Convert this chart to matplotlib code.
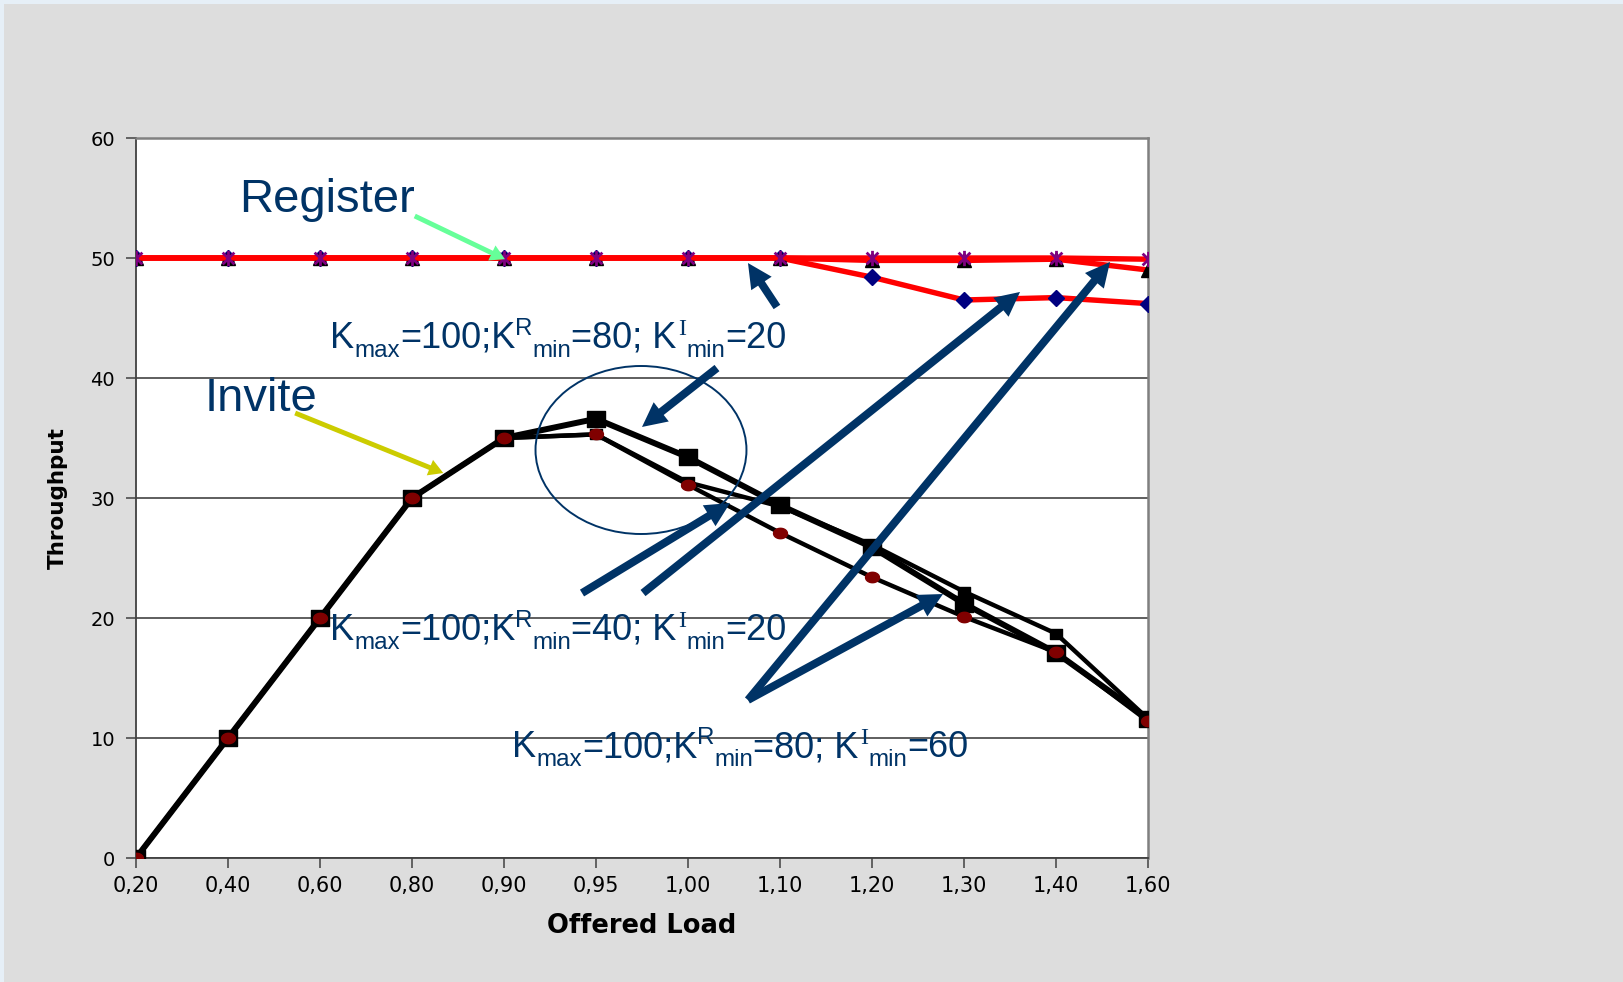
import matplotlib
matplotlib.use("Agg")
import matplotlib.pyplot as plt
import numpy as np
from matplotlib.path import Path
from matplotlib.patches import FancyArrowPatch, Ellipse, Rectangle
from matplotlib.transforms import IdentityTransform

# Offered load categories
loads = ["0,20", "0,40", "0,60", "0,80", "0,90", "0,95",
         "1,00", "1,10", "1,20", "1,30", "1,40", "1,60"]
yticks = [0, 10, 20, 30, 40, 50, 60]

# Register throughput
reg_80_20 = [50, 50, 50, 50, 50, 50, 50, 50, 50, 50, 50, 49.9]
reg_80_60 = [50, 50, 50, 50, 50, 50, 50, 50, 49.8, 49.8, 49.9, 49.0]
reg_40_20 = [50, 50, 50, 50, 50, 50, 50, 50, 48.4, 46.5, 46.7, 46.2]

# Invite throughput
inv_80_20 = [0, 10, 20, 30, 35, 36.6, 33.4, 29.4, 25.9, 21.2, 17.1, 11.6]
inv_80_60 = [0, 10, 20, 30, 35, 35.3, 31.3, 29.3, 26.1, 22.2, 18.7, 11.6]
inv_40_20 = [0, 10, 20, 30, 35, 35.3, 31.1, 27.1, 23.4, 20.1, 17.15, 11.4]

# Parameter sets: (K^R_min, K^I_min)
params = [("80", "20"), ("40", "20"), ("80", "60")]

W, H = 1624, 982
fig = plt.figure(figsize=(W / 100, H / 100), dpi=100)
fig.patch.set_facecolor("#DDDDDD")
fig.patches.append(Rectangle((0, 1 - 4 / H), 1, 4 / H, transform=fig.transFigure,
                             facecolor="#E6EFF7", edgecolor="none"))
fig.patches.append(Rectangle((0, 0), 4 / W, 1, transform=fig.transFigure,
                             facecolor="#E6EFF7", edgecolor="none"))

L, R, T, B = 136, 1148, 138, 858
ax = fig.add_axes([L / W, 1 - B / H, (R - L) / W, (B - T) / H])
ax.set_facecolor("white")
x = list(range(len(loads)))

navy = "#003366"

# Excel-style asterisk marker: an x with a vertical bar
aster = Path([(-1, -1), (1, 1), (-1, 1), (1, -1), (0, -1.3), (0, 1.3)],
             [Path.MOVETO, Path.LINETO, Path.MOVETO, Path.LINETO, Path.MOVETO, Path.LINETO])
# slightly wide markers (flattened circle and box)
t = np.linspace(0, 2 * np.pi, 41)
oval = Path(np.column_stack([np.cos(t), 0.75 * np.sin(t)]), closed=True)
box = Path([(-1, -0.85), (1, -0.85), (1, 0.85), (-1, 0.85), (-1, -0.85)], closed=True)

ax.plot(x, reg_40_20, color="#FF0000", lw=3.9, marker="D", ms=8.5,
        mfc="#000080", mec="#000080", zorder=4)
ax.plot(x, reg_80_60, color="#FF0000", lw=3.9, marker="^", ms=10.5,
        mfc="black", mec="black", zorder=5)
ax.plot(x, reg_80_20, color="#FF0000", lw=3.9, zorder=5)
ax.plot(x, reg_80_20, ls="none", marker=aster, ms=11, mfc="none",
        mec="#800080", mew=2.0, zorder=6)

ax.plot(x, inv_80_20, color="black", lw=4.3, marker=box, ms=13.5,
        mfc="black", mec="black", zorder=4)
ax.plot(x, inv_80_60, color="black", lw=3.2, marker=box, ms=8.5,
        mfc="black", mec="black", zorder=4)
ax.plot(x, inv_40_20, color="black", lw=3.2, marker=oval, ms=10,
        mfc="#800000", mec="#800000", zorder=5)

ax.set_xlim(0, len(loads) - 1)
ax.set_ylim(0, 60)
ax.set_xticks(x)
ax.set_xticklabels(loads)
ax.set_yticks(yticks)
ax.yaxis.grid(True, color="#333333", lw=1.1)
ax.set_axisbelow(True)
ax.tick_params(axis="both", direction="out", length=7, width=1.1,
               color="#404040", pad=6)
ax.tick_params(axis="x", labelsize=15)
ax.tick_params(axis="y", labelsize=14, pad=8)
for lab in ax.get_xticklabels() + ax.get_yticklabels():
    lab.set_fontfamily("DejaVu Sans")
for s in ("left", "bottom"):
    ax.spines[s].set_color("#404040")
    ax.spines[s].set_linewidth(1.3)
for s in ("top", "right"):
    ax.spines[s].set_color("#808080")
    ax.spines[s].set_linewidth(1.8)

ax.set_xlabel("Offered Load", fontsize=18.5, fontweight="bold",
              family="DejaVu Sans", labelpad=12)
ax.set_ylabel("Throughput", fontsize=15.5, fontweight="bold",
              family="DejaVu Sans", labelpad=16)

# Annotations
txt = dict(family="Liberation Sans", color=navy, va="baseline", ha="left",
           zorder=8, clip_on=False)
ax.text(1.12, 53.8, "Register", fontsize=34, **txt)
ax.text(0.75, 37.25, "Invite", fontsize=34, **txt)

renderer = fig.canvas.get_renderer()


def put(s, px, py, size, family="Liberation Sans"):
    tx = fig.text(px, py, s, transform=IdentityTransform(), fontsize=size,
                  family=family, color=navy, ha="left", va="baseline", zorder=8)
    return tx.get_window_extent(renderer).width


def k_label(px, top_py, kr, ki, size=26):
    # px, top_py: left edge and baseline in image pixels (origin top-left)
    y0 = H - top_py
    small = size * 0.67
    sub_dy, sup_dy = -9, 13
    cx = px
    cx += put("K", cx, y0, size)
    cx += put("max", cx, y0 + sub_dy, small)
    cx += put("=100;K", cx, y0, size)
    cx += put("R", cx, y0 + sup_dy, small)
    cx += put("min", cx, y0 + sub_dy, small)
    cx += put("=" + kr + "; K", cx, y0, size)
    cx += put("I", cx + 1, y0 + sup_dy, small, family="Liberation Serif") + 2
    cx += put("min", cx, y0 + sub_dy, small)
    put("=" + ki, cx, y0, size)


k_label(330, 348, *params[0])
k_label(330, 640, *params[1])
k_label(512, 757, *params[2])


def arrow(tail, tip, color, style, scale):
    a = FancyArrowPatch(tail, tip, arrowstyle=style, mutation_scale=scale,
                        color=color, lw=0, shrinkA=0, shrinkB=0, zorder=9,
                        clip_on=False)
    ax.add_patch(a)


thick = "simple,head_length=0.8,head_width=0.8,tail_width=0.26"
thin = "simple,head_length=0.65,head_width=0.75,tail_width=0.22"
arrow((3.03, 53.5), (4.01, 49.9), "#66FF99", thin, 16)
arrow((1.73, 37.08), (3.34, 32.08), "#CCCC00", thin, 16)
arrow((6.967, 45.92), (6.652, 49.58), navy, thick, 22)
arrow((6.315, 40.83), (5.50, 35.92), navy, thick, 22)
arrow((4.848, 22.08), (6.457, 29.58), navy, thick, 22)
arrow((5.511, 22.08), (9.609, 47.17), navy, thick, 22)
arrow((6.652, 13.17), (10.587, 49.67), navy, thick, 22)
arrow((6.652, 13.17), (8.772, 22.0), navy, thick, 22)

ax.add_patch(Ellipse((5.489, 34.0), 2.293, 14.0, fill=False, edgecolor=navy,
                     lw=1.4, zorder=7))

fig.savefig("out.png", dpi=100, facecolor=fig.get_facecolor())
